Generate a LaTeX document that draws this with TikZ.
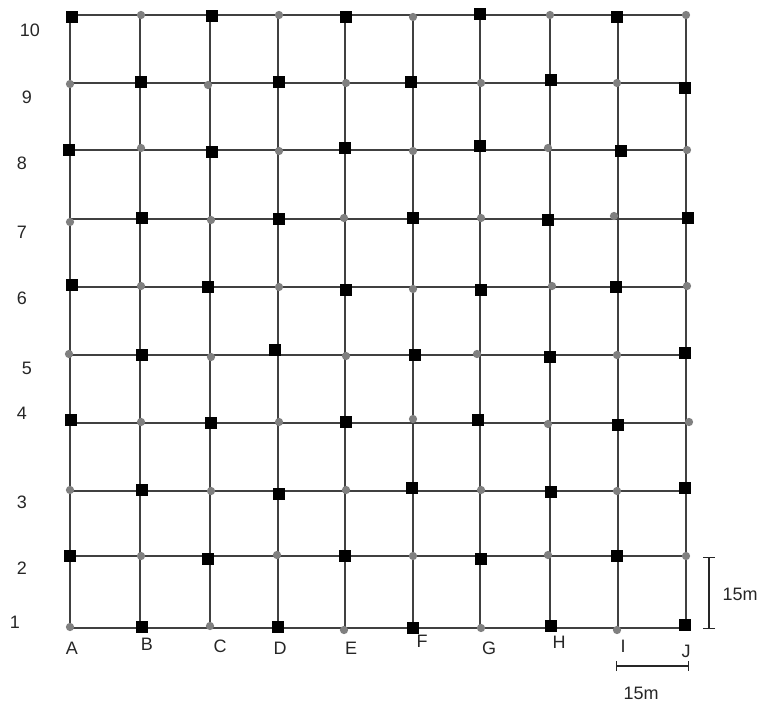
\documentclass[tikz,border=0pt]{standalone}
\usepackage{fontspec}
\setmainfont{Liberation Sans}
\usetikzlibrary{arrows.meta}
\begin{document}
\begin{tikzpicture}[x=0.75pt,y=-0.75pt,
  gridline/.style={draw=black!75, line width=1.1pt},
  sq/.style={rectangle, fill=black, minimum size=9pt, inner sep=0pt},
  dot/.style={circle, fill=black!50, minimum size=6.2pt, inner sep=0pt},
  lbl/.style={font=\fontsize{13.5}{15}\selectfont, text=black!85, inner sep=0pt},
  scalebar/.style={draw=black!85, line width=0.9pt}]
\useasboundingbox (0,0) rectangle (760,706);
% grid corner coordinates
\foreach \x [count=\i] in {70,140,210,278,345,413,480,550,618,686} {
  \coordinate (t\i) at (\x,15);
  \coordinate (b\i) at (\x,628);
}
\foreach \y [count=\j] in {628,556,491,423,355,287,219,150,83,15} {
  \coordinate (l\j) at (70,\y);
  \coordinate (r\j) at (686,\y);
}
\foreach \i in {1,...,10} {
  \draw[gridline] (t\i) -- (b\i);
  \draw[gridline] (l\i) -- (r\i);
}
% gray circles
\foreach \x/\y [count=\k] in {
  141/15, 279/15, 413/17, 550/15, 686/15,
  70/84, 208/85, 346/83, 481/83, 617/83,
  141/148, 279/151, 413/151, 548/148, 687/150,
  70/222, 211/220, 344/218, 481/218, 614/216,
  141/286, 279/287, 413/289, 552/286, 687/286,
  69/354, 211/357, 346/356, 477/354, 617/355,
  141/422, 279/422, 413/419, 548/424, 689/422,
  70/490, 211/491, 346/490, 481/490, 617/491,
  141/556, 277/555, 413/556, 548/555, 686/556,
  70/627, 210/626, 344/630, 481/628, 617/630}
  \node[dot] (c\k) at (\x,\y) {};
% black squares
\foreach \x/\y [count=\k] in {
  72/17, 212/16, 346/17, 480/14, 617/17,
  141/82, 279/82, 411/82, 551/80, 685/88,
  69/150, 212/152, 345/148, 480/146, 621/151,
  142/218, 279/219, 413/218, 548/220, 688/218,
  72/285, 208/287, 346/290, 481/290, 616/287,
  142/355, 275/350, 415/355, 550/357, 685/353,
  71/420, 211/423, 346/422, 478/420, 618/425,
  142/490, 279/494, 412/488, 551/492, 685/488,
  70/556, 208/559, 345/556, 481/559, 617/556,
  142/627, 278/627, 413/628, 551/626, 685/625}
  \node[sq] (s\k) at (\x,\y) {};
% row labels
\node[lbl] (r10) at (30,30) {10};
\node[lbl] (r9) at (27,97) {9};
\node[lbl] (r8) at (22,163) {8};
\node[lbl] (r7) at (22,232) {7};
\node[lbl] (r6) at (22,298) {6};
\node[lbl] (r5) at (27,368) {5};
\node[lbl] (r4) at (22,413) {4};
\node[lbl] (r3) at (22,502) {3};
\node[lbl] (r2) at (22,568) {2};
\node[lbl] (r1) at (15,622) {1};
% column labels
\node[lbl] (cA) at (72,648) {A};
\node[lbl] (cB) at (147,644) {B};
\node[lbl] (cC) at (220,646) {C};
\node[lbl] (cD) at (280,648) {D};
\node[lbl] (cE) at (351,648) {E};
\node[lbl] (cF) at (422,641) {F};
\node[lbl] (cG) at (489,648) {G};
\node[lbl] (cH) at (559,642) {H};
\node[lbl] (cI) at (623,646) {I};
\node[lbl] (cJ) at (686,651) {J};
% scale bars
\coordinate (v1) at (709,557);
\coordinate (v2) at (709,629);
\draw[scalebar, {Bar[width=9pt]}-{Bar[width=9pt]}] (v1) -- (v2);
\node[lbl] (vlab) at (740,594) {15m};
\coordinate (h1) at (616,666);
\coordinate (h2) at (689,666);
\draw[scalebar, {Bar[width=7.5pt]}-{Bar[width=7.5pt]}] (h1) -- (h2);
\node[lbl] (hlab) at (641,693) {15m};
\end{tikzpicture}
\end{document}
